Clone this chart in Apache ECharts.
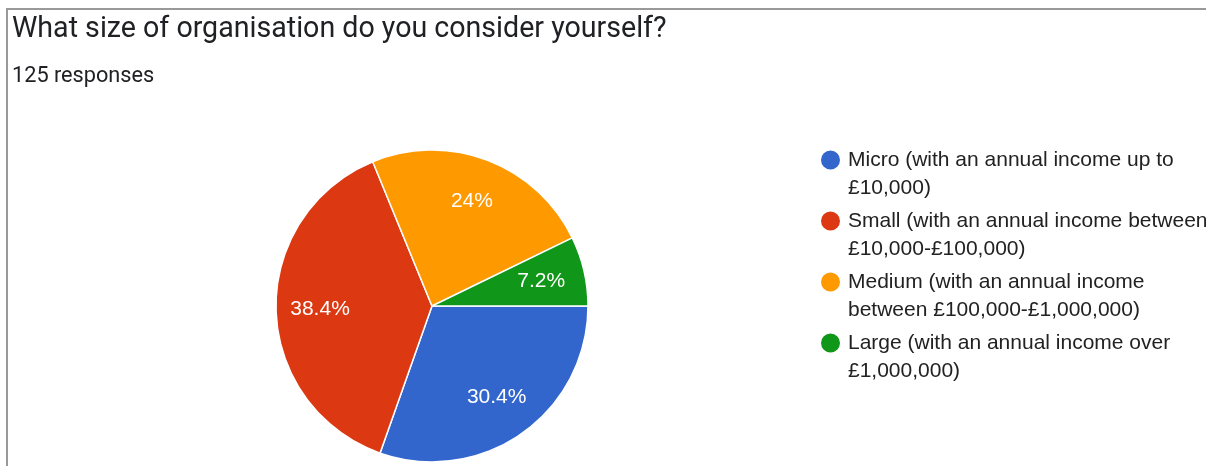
<!DOCTYPE html>
<html>
<head>
<meta charset="utf-8">
<script src="https://cdn.jsdelivr.net/npm/echarts@6/dist/echarts.min.js"></script>
<style>
  html, body { margin: 0; padding: 0; background: #fff; }
  #pieChart { width: 1206px; height: 466px; }
</style>
</head>
<body>
<div id="pieChart"></div>
<script>
// data (125 responses)
var categories = [
    'Micro (with an annual income up to £10,000)',
    'Small (with an annual income between £10,000-£100,000)',
    'Medium (with an annual income between £100,000-£1,000,000)',
    'Large (with an annual income over £1,000,000)'
]
var legendLines = [
    ['Micro (with an annual income up to', '£10,000)'],
    ['Small (with an annual income between', '£10,000-£100,000)'],
    ['Medium (with an annual income', 'between £100,000-£1,000,000)'],
    ['Large (with an annual income over', '£1,000,000)']
]
var responses = [38, 48, 30, 9]
var colors = ['#3366cc', '#dc3912', '#ff9900', '#109618']

var pieData = []
for (let i = 0; i < categories.length; i++) {
    pieData.push({ name: categories[i], value: responses[i] })
}

var chart = echarts.init(document.getElementById('pieChart'))
chart.setOption({
    animation: false,
    color: colors,
    title: [
        {
            text: 'What size of organisation do you consider yourself?',
            left: 7,
            top: 10,
            textStyle: { fontFamily: 'Roboto', fontSize: 28.6, fontWeight: 'normal', color: '#202124' }
        },
        {
            text: '125 responses',
            left: 7,
            top: 61,
            textStyle: { fontFamily: 'Roboto', fontSize: 21.7, fontWeight: 'normal', color: '#202124' }
        }
    ],
    legend: {
        orient: 'vertical',
        left: 814,
        top: 113,
        itemWidth: 25,
        itemHeight: 21,
        itemGap: -23,
        icon: 'circle',
        selectedMode: false,
        // blank first line so the marker sits beside the first text line
        formatter: function (name) {
            return '\u00a0\n' + legendLines[categories.indexOf(name)].join('\n')
        },
        textStyle: {
            fontFamily: 'Arial, Liberation Sans, sans-serif',
            fontSize: 21,
            lineHeight: 28,
            color: '#222222'
        }
    },
    graphic: [
        {
            type: 'polyline',
            silent: true,
            shape: { points: [[7, 466], [7, 9], [1206, 9]] },
            style: { fill: null, stroke: '#999999', lineWidth: 2 }
        }
    ],
    series: [
        {
            type: 'pie',
            center: [432, 306],
            radius: [0, 156],
            startAngle: 0,
            clockwise: true,
            silent: true,
            label: { show: false },
            labelLine: { show: false },
            itemStyle: { borderColor: '#ffffff', borderWidth: 1.5 },
            data: pieData
        },
        {
            // label layer: places the percentages at ~0.7 of the radius
            type: 'pie',
            center: [432, 306],
            radius: [62, 156],
            startAngle: 0,
            clockwise: true,
            silent: true,
            itemStyle: { color: 'rgba(0,0,0,0)' },
            label: {
                show: true,
                position: 'inside',
                formatter: '{d}%',
                fontFamily: 'Arial, Liberation Sans, sans-serif',
                fontSize: 21,
                color: '#ffffff'
            },
            labelLine: { show: false },
            data: pieData
        }
    ]
})
</script>
</body>
</html>
